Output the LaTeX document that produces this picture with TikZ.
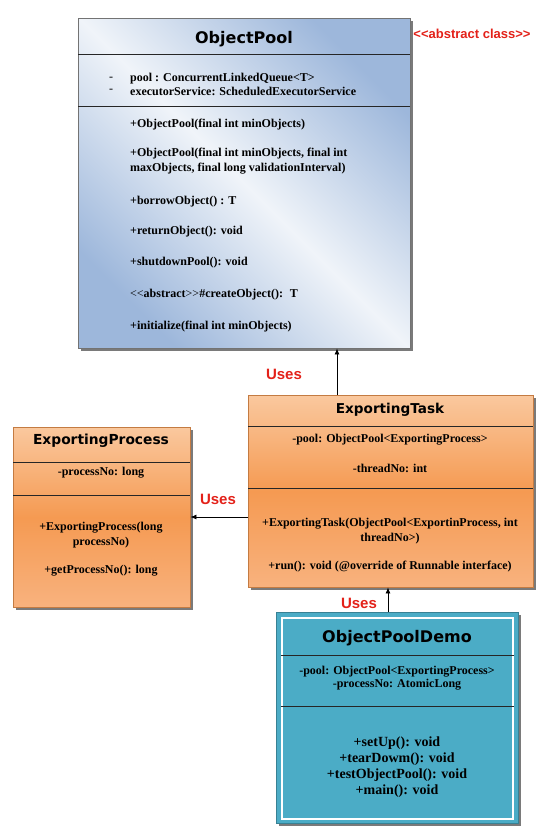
\documentclass[tikz,border=0pt]{standalone}
\usepackage{fontspec}
\setmainfont{Liberation Serif}
\setsansfont{Liberation Sans}
\newfontfamily\titlefont{DejaVu Sans}
\usetikzlibrary{shadows,arrows.meta}
\definecolor{poollight}{HTML}{F0F4F9}
\definecolor{poolblue}{HTML}{9DB7DB}
\definecolor{orangetop}{HTML}{FAC89E}
\definecolor{orangemid}{HTML}{F59A52}
\definecolor{orangebot}{HTML}{F8B27E}
\definecolor{demoteal}{HTML}{4BACC6}
\definecolor{usesred}{HTML}{E32119}
\begin{document}
\begin{tikzpicture}[x=1pt,y=-1pt,
  classbox/.style={draw=black!55, anchor=north west, inner sep=0pt,
    drop shadow={shadow xshift=2.5pt,shadow yshift=-2.5pt,fill=black!65,opacity=.8}},
  poolshade/.style={top color=poolblue, bottom color=poolblue, middle color=poollight, shading angle=-45},
  orangeshade/.style={draw=orangemid!80!black, top color=orangetop, bottom color=orangebot, middle color=orangemid},
  title/.style={font=\titlefont\bfseries\fontsize{16}{18}\selectfont, inner sep=0pt},
  member/.style={font=\bfseries\fontsize{12}{15.5}\selectfont, inner sep=0pt},
  uses/.style={font=\sffamily\bfseries\fontsize{15}{18}\selectfont, text=usesred, inner sep=0pt},
  sep/.style={black!85, line width=0.8pt},
  dep/.style={-{Latex[length=6pt,width=5pt]}, line width=0.8pt}]
  \useasboundingbox (0,0) rectangle (540,835);

  \node[classbox, poolshade, minimum width=332pt, minimum height=330pt] (pool) at (78,18) {};
  \node[title] (pooltitle) at (244,39) {ObjectPool};
  \draw[sep] ([yshift=-36pt]pool.north west) -- ([yshift=-36pt]pool.north east);
  \node[member, font=\fontsize{12}{15.5}\selectfont] (pooldash1) at (111,79) {-};
  \node[member, anchor=west] (poolattr1) at (130,79) {pool : ConcurrentLinkedQueue<T>};
  \node[member, font=\fontsize{12}{15.5}\selectfont] (pooldash2) at (111,91) {-};
  \node[member, anchor=west] (poolattr2) at (130,91) {executorService: ScheduledExecutorService};
  \draw[sep] ([yshift=-88pt]pool.north west) -- ([yshift=-88pt]pool.north east);
  \node[member, anchor=west] (poolm1) at (130,125) {+ObjectPool(final int minObjects)};
  \node[member, anchor=west, align=left] (poolm2) at (130,161) {+ObjectPool(final int minObjects, final int\\maxObjects, final long validationInterval)};
  \node[member, anchor=west] (poolm3) at (130,202) {+borrowObject() : T};
  \node[member, anchor=west] (poolm4) at (130,232) {+returnObject(): void};
  \node[member, anchor=west] (poolm5) at (130,263) {+shutdownPool(): void};
  \node[member, anchor=west] (poolm6) at (130,295) {{\mdseries<\kern0pt<}abstract{\mdseries>\kern0pt>}\#createObject():~ T};
  \node[member, anchor=west] (poolm7) at (130,327) {+initialize(final int minObjects)};
  \node[font=\sffamily\bfseries\fontsize{13}{15}\selectfont, text=usesred, inner sep=0pt] (abstractnote) at (472,34) {<\kern0pt<abstract class>\kern0pt>};

  \node[classbox, orangeshade, minimum width=285pt, minimum height=192pt] (task) at (248,395) {};
  \node[title, font=\titlefont\bfseries\fontsize{13.6}{16}\selectfont] (tasktitle) at (390,410) {ExportingTask};
  \draw[sep] ([yshift=-31pt]task.north west) -- ([yshift=-31pt]task.north east);
  \node[member] (taskattr1) at (390,440) {-pool: ObjectPool<ExportingProcess>};
  \node[member] (taskattr2) at (390,468) {-threadNo: int};
  \draw[sep] ([yshift=-93pt]task.north west) -- ([yshift=-93pt]task.north east);
  \node[member, align=center] (taskm1) at (390,531) {+ExportingTask(ObjectPool<ExportinProcess, int\\threadNo>)};
  \node[member] (taskm2) at (390,567) {+run(): void (@override of Runnable interface)};

  \node[classbox, orangeshade, minimum width=177pt, minimum height=180pt] (proc) at (13,427) {};
  \node[title, font=\titlefont\bfseries\fontsize{13.8}{16}\selectfont] (proctitle) at (101,441) {ExportingProcess};
  \draw[sep] ([yshift=-35pt]proc.north west) -- ([yshift=-35pt]proc.north east);
  \node[member] (procattr1) at (101,473) {-processNo: long};
  \draw[sep] ([yshift=-68pt]proc.north west) -- ([yshift=-68pt]proc.north east);
  \node[member, align=center] (procm1) at (101,535) {+ExportingProcess(long\\processNo)};
  \node[member] (procm2) at (101,571) {+getProcessNo(): long};

  \node[classbox, fill=demoteal, draw=demoteal!75!black, minimum width=242pt, minimum height=211pt] (demo) at (276,612) {};
  \node[draw=white, line width=1.6pt, anchor=north west, inner sep=0pt, minimum width=231pt, minimum height=201pt] (demoframe) at (281,617) {};
  \node[title] (demotitle) at (397,638) {ObjectPoolDemo};
  \draw[sep] ([yshift=-38pt]demoframe.north west) -- ([yshift=-38pt]demoframe.north east);
  \node[member] (demoattr1) at (397,672) {-pool: ObjectPool<ExportingProcess>};
  \node[member] (demoattr2) at (397,685) {-processNo: AtomicLong};
  \draw[sep] ([yshift=-89pt]demoframe.north west) -- ([yshift=-89pt]demoframe.north east);
  \node[member, font=\bfseries\fontsize{14}{15.8}\selectfont, align=center] (demom) at (397,767) {+setUp(): void\\+tearDowm(): void\\+testObjectPool(): void\\+main(): void};

  \coordinate (poolx) at (337,0);
  \coordinate (procy) at (0,517);
  \coordinate (demox) at (388,0);
  \draw[dep] (task.north -| poolx) -- (pool.south -| poolx);
  \draw[dep] (task.west |- procy) -- (proc.east |- procy);
  \draw[dep] (demo.north -| demox) -- (task.south -| demox);
  \node[uses] (uses1) at (284,374) {Uses};
  \node[uses] (uses2) at (218,499) {Uses};
  \node[uses] (uses3) at (359,603) {Uses};
\end{tikzpicture}
\end{document}
